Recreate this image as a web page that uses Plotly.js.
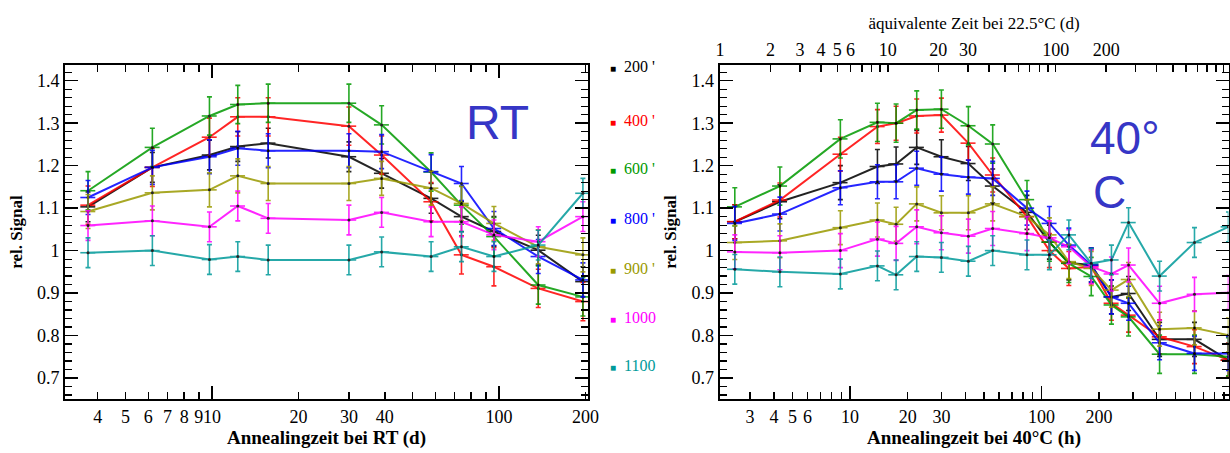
<!DOCTYPE html>
<html>
<head>
<meta charset="utf-8">
<script src="https://cdn.plot.ly/plotly-3.0.1.min.js"></script>
<style>
  html, body { margin: 0; padding: 0; background: #fff; }
  #chart { width: 1230px; height: 453px; }
</style>
</head>
<body>
<div id="chart"></div>
<script>
// Annealing at room temperature: time in days
const rtDays = [3.7, 6.2, 9.8, 12.3, 15.7, 30, 39, 58, 74, 96, 137, 196];
// Annealing at 40 °C: time in hours
const h40 = [2.5, 4.3, 8.9, 13.9, 17.4, 22.3, 30, 41.5, 55.6, 84, 110, 139, 182, 232, 285, 414, 630, 948];

const seriesNames = ["200 '", "400 '", "600 '", "800 '", "900 '", "1000", "1100"];
const seriesColors = ["#000000", "#ff0000", "#009a00", "#0000ff", "#9a9a00", "#ff00ff", "#009a9a"];

// relative signal, room temperature annealing
const rt200  = [1.103, 1.196, 1.225, 1.245, 1.253, 1.221, 1.182, 1.123, 1.080, 1.045, 1.001, 0.927];
const rt400  = [1.107, 1.196, 1.267, 1.315, 1.315, 1.293, 1.225, 1.115, 0.990, 0.962, 0.911, 0.880];
const rt600  = [1.141, 1.243, 1.317, 1.344, 1.347, 1.347, 1.296, 1.185, 1.107, 1.033, 0.919, 0.891];
const rt800  = [1.125, 1.196, 1.221, 1.241, 1.235, 1.235, 1.233, 1.186, 1.158, 1.052, 0.986, 0.931];
const rt900  = [1.092, 1.136, 1.143, 1.176, 1.158, 1.158, 1.170, 1.147, 1.111, 1.064, 1.009, 0.990];
const rt1000 = [1.059, 1.070, 1.056, 1.105, 1.076, 1.072, 1.090, 1.068, 1.068, 1.037, 1.021, 1.080];
const rt1100 = [0.995, 1.000, 0.979, 0.986, 0.978, 0.978, 0.997, 0.986, 1.009, 0.986, 1.013, 1.135];

// relative signal, annealing at 40 °C
const c200  = [1.068, 1.115, 1.160, 1.198, 1.204, 1.243, 1.221, 1.205, 1.152, 1.090, 1.020, 0.971, 0.966, 0.891, 0.899, 0.791, 0.791, 0.742];
const c400  = [1.068, 1.119, 1.227, 1.292, 1.300, 1.317, 1.319, 1.253, 1.178, 1.080, 1.000, 0.958, 0.962, 0.876, 0.848, 0.797, 0.774, 0.742];
const c600  = [1.103, 1.152, 1.263, 1.302, 1.300, 1.331, 1.333, 1.294, 1.251, 1.120, 1.020, 0.970, 0.939, 0.872, 0.844, 0.756, 0.756, 0.750];
const c800  = [1.064, 1.086, 1.148, 1.162, 1.162, 1.194, 1.180, 1.173, 1.170, 1.100, 1.064, 1.013, 0.966, 0.891, 0.876, 0.783, 0.758, 0.758];
const c900  = [1.019, 1.023, 1.054, 1.072, 1.062, 1.110, 1.089, 1.089, 1.110, 1.080, 1.037, 0.974, 0.958, 0.907, 0.932, 0.815, 0.818, 0.801];
const c1000 = [0.997, 0.995, 1.000, 1.027, 1.017, 1.056, 1.042, 1.034, 1.052, 1.040, 1.030, 1.009, 0.962, 0.945, 0.966, 0.876, 0.897, 0.901];
const c1100 = [0.956, 0.950, 0.945, 0.964, 0.943, 0.986, 0.984, 0.975, 1.000, 0.990, 0.990, 1.037, 0.970, 0.978, 1.066, 0.940, 1.019, 1.056];

// uncertainty of the relative signal per series
const errRT = [0.035, 0.045, 0.045, 0.04, 0.04, 0.035, 0.035];
const err40 = [0.04, 0.04, 0.045, 0.04, 0.04, 0.04, 0.035];

// tick labels
const rtTickVals = [4,5,6,7,8,9,10,20,30,40,50,60,70,80,90,100,200];
const rtTickText = ["4","5","6","7","8","9","10","20","30","40","","","","","","100","200"];
const hTickVals = [3,4,5,6,7,8,9,10,20,30,40,50,60,70,80,90,100,200,300,400,500,600,700,800,900];
const hTickText = ["3","4","5","6","","","","10","20","30","","","","","","","100","200","","","","","","",""];
const dTickVals = [1,2,3,4,5,6,7,8,9,10,20,30,40,50,60,70,80,90,100,200,300,400,500,600,700,800,900,1000];
const dTickText = ["1","2","3","4","5","6","","","","10","20","30","","","","","","","100","200","","","","","","","",""];
const decadeTicks = [10, 100];

const rtSeries = [rt200, rt400, rt600, rt800, rt900, rt1000, rt1100];
const c40Series = [c200, c400, c600, c800, c900, c1000, c1100];

const W = 1230, H = 453;
const px = v => v / W;
const py = v => (H - v) / H;

const serif = "Liberation Serif, Times New Roman, serif";
const traces = [];

function addSeries(xs, ys, color, err, xa, ya, xpct) {
  traces.push({
    x: xs, y: ys, xaxis: xa, yaxis: ya,
    type: "scatter", mode: "lines+markers",
    line: { color: color, width: 2 },
    opacity: 0.85,
    marker: { color: "#000", size: 3 },
    error_y: { type: "constant", value: err, color: color, thickness: 1.6, width: 2.5 },
    error_x: { type: "percent", value: xpct, color: color, thickness: 1.6, width: 0 },
    showlegend: false, hoverinfo: "x+y"
  });
}

rtSeries.forEach((ys, i) => addSeries(rtDays, ys, seriesColors[i], errRT[i], "x", "y", 6));
c40Series.forEach((ys, i) => addSeries(h40, ys, seriesColors[i], err40[i], "x2", "y2", 9));

// empty traces so the overlay axes get their own subplots
traces.push({ x: [], y: [], xaxis: "x3", yaxis: "y2", type: "scatter", showlegend: false });
traces.push({ x: [], y: [], xaxis: "x4", yaxis: "y", type: "scatter", showlegend: false });
traces.push({ x: [], y: [], xaxis: "x5", yaxis: "y2", type: "scatter", showlegend: false });

const leftDom = [px(65), px(588)];
const rightDom = [px(719.5), px(1228.5)];
const yDom = [py(399), py(65)];

const tickFont = { family: serif, size: 18, color: "#000" };
const titleFont = { family: serif, size: 19, color: "#000", weight: "bold" };

const baseX = {
  type: "log", showgrid: false, zeroline: false,
  showline: true, linewidth: 2, linecolor: "#000",
  ticks: "inside", ticklen: 7, tickwidth: 1.5, tickcolor: "#000",
  tickfont: tickFont, tickmode: "array", tickangle: 0, fixedrange: true
};
const baseY = {
  range: [0.6506, 1.437], showgrid: false, zeroline: false,
  showline: true, linewidth: 2, linecolor: "#000", mirror: "ticks",
  ticks: "inside", ticklen: 13, tickwidth: 1.5, tickcolor: "#000",
  tickmode: "array", tickvals: [0.7, 0.8, 0.9, 1.0, 1.1, 1.2, 1.3, 1.4],
  ticktext: ["0.7", "0.8", "0.9", "1", "1.1", "1.2", "1.3", "1.4"],
  tickfont: tickFont,
  minor: { dtick: 0.02, tick0: 0, ticks: "inside", ticklen: 7, tickwidth: 1.2, tickcolor: "#000", showgrid: false },
  title: { text: "rel. Signal", font: { family: serif, size: 17, color: "#000", weight: "bold" }, standoff: 10 },
  fixedrange: true
};

const annotations = [];
seriesNames.forEach((name, i) => {
  const yc = [67, 120, 168, 218, 268, 317, 365][i];
  annotations.push({
    xref: "paper", yref: "paper", x: px(608), y: py(yc),
    xanchor: "left", yanchor: "middle", showarrow: false,
    text: "<span style='font-size:10px'>■</span>  " + name,
    font: { family: serif, size: 16, color: seriesColors[i] }
  });
});
annotations.push({
  xref: "paper", yref: "paper", x: px(497), y: py(122), xanchor: "center", yanchor: "middle",
  showarrow: false, text: "RT", font: { family: "Liberation Sans, Arial, sans-serif", size: 48, color: "#3636c6" }
});
annotations.push({
  xref: "paper", yref: "paper", x: px(1125), y: py(138), xanchor: "center", yanchor: "middle",
  showarrow: false, text: "40°", font: { family: "Liberation Sans, Arial, sans-serif", size: 46, color: "#3636c6" }
});
annotations.push({
  xref: "paper", yref: "paper", x: px(1109), y: py(192), xanchor: "center", yanchor: "middle",
  showarrow: false, text: "C", font: { family: "Liberation Sans, Arial, sans-serif", size: 46, color: "#3636c6" }
});

const layout = {
  width: W, height: H,
  margin: { l: 0, r: 0, t: 0, b: 0 },
  paper_bgcolor: "#fff", plot_bgcolor: "#fff",
  showlegend: false,
  xaxis: Object.assign({}, baseX, {
    domain: leftDom, anchor: "y", range: [0.488, 2.31], mirror: "ticks",
    tickvals: rtTickVals, ticktext: rtTickText,
    title: { text: "Annealingzeit bei RT (d)", font: titleFont, standoff: 4 }
  }),
  xaxis4: Object.assign({}, baseX, {
    overlaying: "x", anchor: "y", range: [0.488, 2.31], mirror: "ticks",
    showline: false, showticklabels: false, ticklen: 13, tickvals: decadeTicks
  }),
  yaxis: Object.assign({}, baseY, { domain: yDom, anchor: "x" }),
  xaxis2: Object.assign({}, baseX, {
    domain: rightDom, anchor: "y2", range: [0.318, 2.977], mirror: false,
    tickvals: hTickVals, ticktext: hTickText,
    title: { text: "Annealingzeit bei 40°C (h)", font: titleFont, standoff: 4 }
  }),
  xaxis5: Object.assign({}, baseX, {
    overlaying: "x2", anchor: "y2", range: [0.318, 2.977],
    showline: false, showticklabels: false, ticklen: 13, tickvals: decadeTicks
  }),
  xaxis3: Object.assign({}, baseX, {
    overlaying: "x2", anchor: "y2", side: "top", range: [-0.003, 3.03],
    tickvals: dTickVals, ticktext: dTickText,
    title: { text: "äquivalente Zeit bei 22.5°C (d)", font: { family: serif, size: 17, color: "#000" }, standoff: 6 }
  }),
  yaxis2: Object.assign({}, baseY, { domain: yDom, anchor: "x2" }),
  annotations: annotations
};

Plotly.newPlot("chart", traces, layout, { staticPlot: true, displayModeBar: false });
</script>
</body>
</html>
